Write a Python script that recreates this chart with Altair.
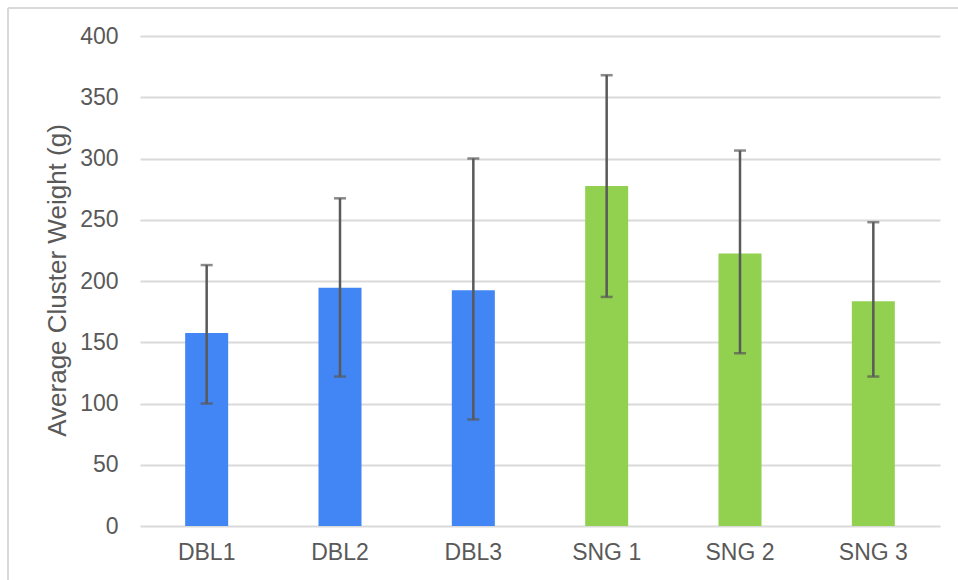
import altair as alt
import pandas as pd

categories = ["DBL1", "DBL2", "DBL3", "SNG 1", "SNG 2", "SNG 3"]
groups = ["DBL", "DBL", "DBL", "SNG", "SNG", "SNG"]
means = [157.5, 194.5, 192.5, 277.5, 222.5, 183.5]
err_low = [100, 122, 87, 187, 141, 122]
err_high = [213, 267.5, 300, 368, 306.5, 248]
y_ticks = [0, 50, 100, 150, 200, 250, 300, 350, 400]

df = pd.DataFrame({
    "cat": categories,
    "group": groups,
    "mean": means,
    "lo": err_low,
    "hi": err_high,
})

FONT = "Liberation Sans"
GRAY = "#595959"

x = alt.X("cat:N", sort=categories, title=None,
          scale=alt.Scale(paddingInner=0, paddingOuter=0),
          axis=alt.Axis(labelAngle=0, labelFontSize=23, labelColor=GRAY,
                        labelFont=FONT, ticks=False, domain=False,
                        labelPadding=15, grid=False))

bars = alt.Chart(df).mark_bar(size=43).encode(
    x=x,
    y=alt.Y("mean:Q", title="Average Cluster Weight (g)",
            scale=alt.Scale(domain=[0, 400], nice=False),
            axis=alt.Axis(values=y_ticks, labelFontSize=23, labelColor=GRAY,
                          labelFont=FONT, ticks=False, domain=False,
                          labelPadding=22, gridColor="#d9d9d9", gridWidth=2,
                          titleFontSize=26, titleColor=GRAY, titleFont=FONT,
                          titleFontWeight="normal", titleAngle=-90,
                          titleX=-83, titleY=244, titleAlign="center",
                          titleBaseline="middle")),
    color=alt.Color("group:N", legend=None,
                    scale=alt.Scale(domain=["DBL", "SNG"],
                                    range=["#4285F4", "#92D050"])),
)

rules = alt.Chart(df).mark_rule(color=GRAY, strokeWidth=2.5).encode(
    x=alt.X("cat:N", sort=categories),
    y="lo:Q",
    y2="hi:Q",
)

caps_lo = alt.Chart(df).mark_tick(color=GRAY, size=12, thickness=2.5).encode(
    x=alt.X("cat:N", sort=categories),
    y="lo:Q",
)
caps_hi = alt.Chart(df).mark_tick(color=GRAY, size=12, thickness=2.5).encode(
    x=alt.X("cat:N", sort=categories),
    y="hi:Q",
)

border_left = alt.Chart(df).mark_rule(color="#d9d9d9", strokeWidth=2, clip=False).encode(
    x=alt.value(-132), y=alt.value(-28), y2=alt.value(560)
)
border_top = alt.Chart(df).mark_rule(color="#d9d9d9", strokeWidth=2, clip=False).encode(
    x=alt.value(-132), x2=alt.value(830), y=alt.value(-28)
)

chart = alt.layer(bars, rules, caps_lo, caps_hi, border_left, border_top).properties(
    width=800, height=490,
    autosize=alt.AutoSizeParams(type="none"),
    padding={"left": 140, "top": 36, "right": 18, "bottom": 54},
    background="white",
).configure_view(stroke=None)

chart.save("out.html", embed_options={"renderer": "svg", "actions": False})
